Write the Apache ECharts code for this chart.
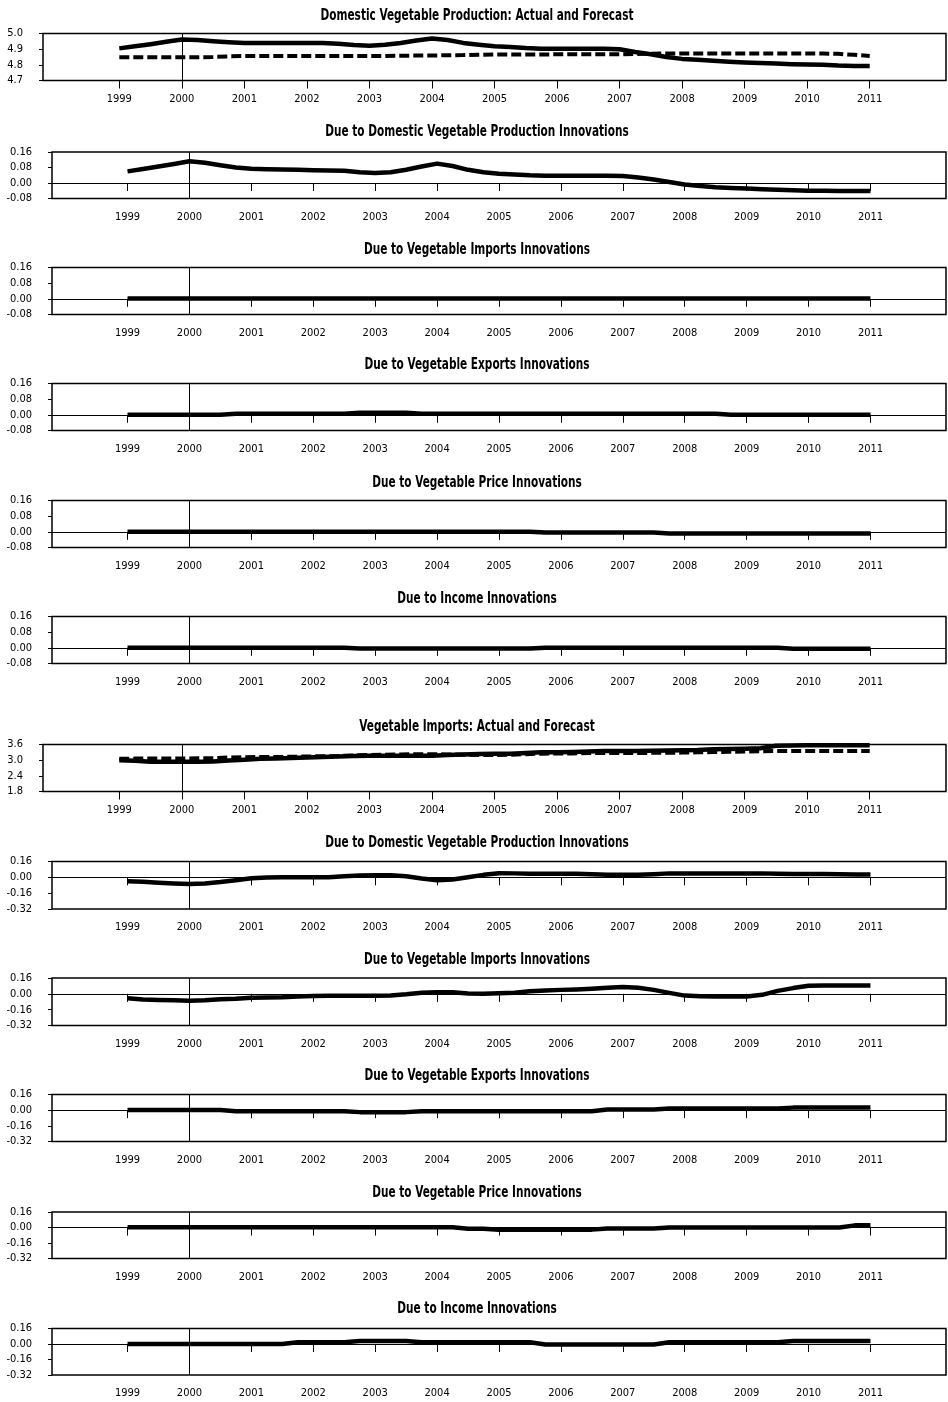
<!DOCTYPE html>
<html><head><meta charset="utf-8">
<script src="https://cdn.jsdelivr.net/npm/echarts@6/dist/echarts.min.js"></script>
<style>html,body{margin:0;padding:0;background:#fff}#c{width:948px;height:1402px}</style>
</head><body><div id="c"></div>
<script>
const quarters = [1999,1999.25,1999.5,1999.75,2000,2000.25,2000.5,2000.75,2001,2001.25,2001.5,2001.75,2002,2002.25,2002.5,2002.75,2003,2003.25,2003.5,2003.75,2004,2004.25,2004.5,2004.75,2005,2005.25,2005.5,2005.75,2006,2006.25,2006.5,2006.75,2007,2007.25,2007.5,2007.75,2008,2008.25,2008.5,2008.75,2009,2009.25,2009.5,2009.75,2010,2010.25,2010.5,2010.75,2011];
const xTicks = [1999,2000,2001,2002,2003,2004,2005,2006,2007,2008,2009,2010,2011];
const titles = [
  "Domestic Vegetable Production: Actual and Forecast",
  "Due to Domestic Vegetable Production Innovations",
  "Due to Vegetable Imports Innovations",
  "Due to Vegetable Exports Innovations",
  "Due to Vegetable Price Innovations",
  "Due to Income Innovations",
  "Vegetable Imports: Actual and Forecast",
  "Due to Domestic Vegetable Production Innovations",
  "Due to Vegetable Imports Innovations",
  "Due to Vegetable Exports Innovations",
  "Due to Vegetable Price Innovations",
  "Due to Income Innovations"
];
const yTicksProd = [4.7,4.8,4.9,5.0];
const yTicksSmallA = [-0.08,0,0.08,0.16];
const yTicksImp = [1.8,2.4,3.0,3.6];
const yTicksSmallB = [-0.32,-0.16,0,0.16];

const prodActual = [4.905,4.918,4.932,4.947,4.962,
 4.958,4.950,4.944,4.940, 4.940,4.940,4.940,4.940, 4.940,4.935,4.927,4.922,
 4.928,4.940,4.955,4.968, 4.958,4.940,4.928,4.918, 4.914,4.907,4.903,4.902,
 4.902,4.902,4.902,4.900, 4.882,4.868,4.850,4.838, 4.832,4.826,4.820,4.815,
 4.812,4.808,4.804,4.802, 4.800,4.795,4.793,4.793];
const prodForecast = [4.848,4.848,4.848,4.848,4.848,
 4.848,4.850,4.854,4.856, 4.856,4.856,4.856,4.856, 4.856,4.856,4.856,4.856,
 4.857,4.858,4.859,4.860, 4.861,4.862,4.864,4.866, 4.866,4.866,4.866,4.867,
 4.867,4.867,4.867,4.868, 4.869,4.871,4.872,4.873, 4.873,4.873,4.873,4.873,
 4.873,4.873,4.873,4.873, 4.872,4.870,4.864,4.857];
const prodDueProd = [0.060,0.072,0.085,0.098,0.112,
 0.104,0.092,0.080,0.073, 0.071,0.070,0.068,0.066, 0.065,0.063,0.056,0.052,
 0.055,0.068,0.085,0.100, 0.088,0.068,0.055,0.048, 0.044,0.040,0.038,0.037,
 0.037,0.037,0.037,0.036, 0.028,0.018,0.005,-0.008, -0.016,-0.022,-0.026,-0.029,
 -0.032,-0.035,-0.038,-0.040, -0.040,-0.041,-0.041,-0.041];
const prodDueImp = [0.002,0.002,0.002,0.002,0.002,
 0.002,0.002,0.002,0.002, 0.002,0.002,0.002,0.002, 0.002,0.002,0.002,0.002,
 0.002,0.002,0.002,0.002, 0.002,0.002,0.002,0.002, 0.002,0.002,0.002,0.002,
 0.002,0.002,0.002,0.002, 0.002,0.002,0.002,0.002, 0.002,0.002,0.002,0.002,
 0.002,0.002,0.002,0.002, 0.002,0.002,0.002,0.002];
const prodDueExp = [0.001,0.001,0.001,0.001,0.001,0.001,0.001,
 0.005,0.005,0.005,0.005,0.005,0.005,0.005,0.005,
 0.011,0.011,0.011,0.011,
 0.005,0.005,0.005,0.005,0.005,0.005,0.005,0.005,0.005,0.005,0.005,0.005,0.005,0.005,0.005,0.005,0.005,0.005,0.005,0.005,
 0.001,0.001,0.001,0.001,0.001,0.001,0.001,0.001,0.001,0.001];
const prodDuePrice = [0.001,0.001,0.001,0.001,0.001,0.001,0.001,0.001,0.001,0.001,0.001,0.001,0.001,0.001,0.001,0.001,0.001,0.001,0.001,0.001,0.001,0.001,0.001,0.001,0.001,0.001,0.001,
 -0.004,-0.004,-0.004,-0.004,-0.004,-0.004,-0.004,-0.004,
 -0.009,-0.009,-0.009,-0.009,-0.009,-0.009,-0.009,-0.009,-0.009,-0.009,-0.009,-0.009,-0.009,-0.009];
const prodDueInc = [0.001,0.001,0.001,0.001,0.001,0.001,0.001,0.001,0.001,0.001,0.001,0.001,0.001,0.001,0.001,
 -0.004,-0.004,-0.004,-0.004,-0.004,-0.004,-0.004,-0.004,-0.004,-0.004,-0.004,-0.004,
 0.001,0.001,0.001,0.001,0.001,0.001,0.001,0.001,0.001,0.001,0.001,0.001,0.001,0.001,0.001,0.001,
 -0.005,-0.005,-0.005,-0.005,-0.005,-0.005];

const impActual = [3.00,2.98,2.94,2.94,2.94,
 2.94,2.95,2.99,3.02, 3.05,3.06,3.08,3.10, 3.12,3.14,3.16,3.17,
 3.17,3.17,3.17,3.17, 3.20,3.22,3.24,3.25, 3.25,3.27,3.30,3.30,
 3.31,3.33,3.35,3.35, 3.35,3.36,3.37,3.38, 3.39,3.42,3.43,3.44,
 3.46,3.55,3.56,3.57, 3.57,3.57,3.57,3.57];
const impForecast = [3.05,3.06,3.06,3.06,3.06,
 3.07,3.08,3.10,3.11, 3.12,3.12,3.13,3.14, 3.15,3.16,3.18,3.20,
 3.21,3.22,3.23,3.23, 3.22,3.21,3.20,3.20, 3.21,3.23,3.25,3.26,
 3.26,3.27,3.27,3.27, 3.27,3.28,3.28,3.29, 3.30,3.31,3.32,3.33,
 3.34,3.35,3.35,3.35, 3.35,3.35,3.35,3.35];
const impDueProd = [-0.040,-0.045,-0.055,-0.062,-0.068,
 -0.062,-0.048,-0.030,-0.010, -0.002,0.000,0.000,0.000, 0.002,0.010,0.018,0.022,
 0.020,0.010,-0.012,-0.030, -0.022,0.000,0.025,0.042, 0.040,0.036,0.035,0.035,
 0.035,0.032,0.026,0.025, 0.026,0.032,0.040,0.040, 0.040,0.040,0.040,0.040,
 0.040,0.036,0.033,0.033, 0.033,0.030,0.028,0.028];
const impDueImp = [-0.044,-0.058,-0.062,-0.066,-0.070,
 -0.066,-0.054,-0.050,-0.040, -0.036,-0.034,-0.026,-0.022, -0.020,-0.020,-0.020,-0.020,
 -0.016,-0.005,0.010,0.017, 0.016,0.004,0.002,0.006, 0.012,0.025,0.034,0.040,
 0.045,0.052,0.062,0.070, 0.062,0.040,0.010,-0.018, -0.025,-0.027,-0.027,-0.027,
 -0.010,0.030,0.058,0.082, 0.084,0.084,0.084,0.084];
const impDueExp = [0.002,0.002,0.002,0.002,0.002,0.002,0.002,
 -0.010,-0.010,-0.010,-0.010,-0.010,-0.010,-0.010,-0.010,
 -0.020,-0.020,-0.020,-0.020,
 -0.010,-0.010,-0.010,-0.010,-0.010,-0.010,-0.010,-0.010,-0.010,-0.010,-0.010,-0.010,
 0.006,0.006,0.006,0.006,
 0.016,0.016,0.016,0.016,0.016,0.016,0.016,0.016,
 0.026,0.026,0.026,0.026,0.026,0.026];
const impDuePrice = [0.002,0.002,0.002,0.002,0.002,0.002,0.002,0.002,0.002,0.002,0.002,0.002,0.002,0.002,0.002,0.002,0.002,0.002,0.002,0.002,0.002,0.002,
 -0.014,-0.014,
 -0.022,-0.022,-0.022,-0.022,-0.022,-0.022,-0.022,
 -0.010,-0.010,-0.010,-0.010,
 0.001,0.001,0.001,0.001,0.001,0.001,0.001,0.001,0.001,0.001,0.001,0.001,
 0.022,0.022];
const impDueInc = [0.000,0.000,0.000,0.000,0.000,0.000,0.000,0.000,0.000,0.000,0.000,
 0.018,0.018,0.018,0.018,
 0.032,0.032,0.032,0.032,
 0.018,0.018,0.018,0.018,0.018,0.018,0.018,0.018,
 -0.006,-0.006,-0.006,-0.006,-0.006,-0.006,-0.006,-0.006,
 0.018,0.018,0.018,0.018,0.018,0.018,0.018,0.018,
 0.032,0.032,0.032,0.032,0.032,0.032];

const panels = [
  {solid: prodActual, dashed: prodForecast, ticks: yTicksProd, dec: 1, zero: false},
  {solid: prodDueProd, ticks: yTicksSmallA, dec: 2, zero: true},
  {solid: prodDueImp, ticks: yTicksSmallA, dec: 2, zero: true},
  {solid: prodDueExp, ticks: yTicksSmallA, dec: 2, zero: true},
  {solid: prodDuePrice, ticks: yTicksSmallA, dec: 2, zero: true},
  {solid: prodDueInc, ticks: yTicksSmallA, dec: 2, zero: true},
  {solid: impActual, dashed: impForecast, ticks: yTicksImp, dec: 1, zero: false},
  {solid: impDueProd, ticks: yTicksSmallB, dec: 2, zero: true},
  {solid: impDueImp, ticks: yTicksSmallB, dec: 2, zero: true},
  {solid: impDueExp, ticks: yTicksSmallB, dec: 2, zero: true},
  {solid: impDuePrice, ticks: yTicksSmallB, dec: 2, zero: true},
  {solid: impDueInc, ticks: yTicksSmallB, dec: 2, zero: true}
];
const layout = [
  {left: 43, top: 33.5, h: 47, t: 16},
  {left: 52, top: 152, h: 46.5, t: 132},
  {left: 52, top: 267.5, h: 47, t: 250},
  {left: 52, top: 383.5, h: 47, t: 365},
  {left: 52, top: 500.5, h: 47, t: 483},
  {left: 52, top: 616.5, h: 47, t: 599},
  {left: 43, top: 744.5, h: 47, t: 727},
  {left: 52, top: 861.5, h: 47.5, t: 843},
  {left: 52, top: 978, h: 47.5, t: 960},
  {left: 52, top: 1094.5, h: 47, t: 1076},
  {left: 52, top: 1212, h: 46.5, t: 1193},
  {left: 52, top: 1328.5, h: 46.5, t: 1309}
];
const FONT = "'Liberation Sans Narrow','Arial Narrow','DejaVu Sans Condensed',sans-serif";

const option = {
  backgroundColor: '#fff',
  animation: false,
  graphic: [], grid: [], xAxis: [], yAxis: [], series: []
};
panels.forEach((p, i) => {
  const L = layout[i];
  option.graphic.push({
    type: 'text', x: 477, y: L.t + 0.5, scaleX: 0.78, scaleY: 1, silent: true,
    style: {text: titles[i], fill: '#000', font: "bold 15px 'DejaVu Sans Condensed', sans-serif",
      textAlign: 'center', textVerticalAlign: 'middle', align: 'center', verticalAlign: 'middle'}
  });
  option.grid.push({
    left: L.left, right: 2, top: L.top, height: L.h,
    show: true, borderColor: '#000', borderWidth: 1.5, backgroundColor: 'transparent'
  });
  option.xAxis.push({
    type: 'value', gridIndex: i, min: 1997.78, max: 2012.22,
    axisLine: {show: false}, splitLine: {show: false},
    axisTick: {show: true, customValues: xTicks, length: 8, lineStyle: {color: '#000', width: 1}},
    axisLabel: {customValues: xTicks, margin: 13, fontFamily: FONT, fontSize: 11, color: '#000', formatter: v => String(v)}
  });
  const tk = p.ticks;
  option.yAxis.push({
    type: 'value', gridIndex: i, min: tk[0], max: tk[tk.length - 1],
    axisLine: {show: false}, splitLine: {show: false},
    axisTick: {show: true, customValues: tk, length: 4, lineStyle: {color: '#000', width: 1}},
    axisLabel: {customValues: tk, margin: 20, fontFamily: FONT, fontSize: 11, color: '#000',
      formatter: v => Number(v).toFixed(p.dec)}
  });
  const markData = [{xAxis: 2000}];
  if (p.zero) markData.push({yAxis: 0});
  option.series.push({
    type: 'line', xAxisIndex: i, yAxisIndex: i, showSymbol: false, symbol: 'none',
    data: quarters.map((q, k) => [q, p.solid[k]]),
    lineStyle: {color: '#000', width: 4.5, cap: 'butt', join: 'round'},
    z: 3,
    markLine: {silent: true, symbol: ['none', 'none'], label: {show: false},
      lineStyle: {color: '#000', width: 1, type: 'solid'}, data: markData, animation: false}
  });
  if (p.dashed) {
    option.series.push({
      type: 'line', xAxisIndex: i, yAxisIndex: i, showSymbol: false, symbol: 'none',
      data: quarters.map((q, k) => [q, p.dashed[k]]),
      lineStyle: {color: '#000', width: 4, type: [10, 4], cap: 'butt'},
      z: 3
    });
  }
});
const chart = echarts.init(document.getElementById('c'), null, {renderer: 'canvas'});
chart.setOption(option);
</script>
</body></html>
